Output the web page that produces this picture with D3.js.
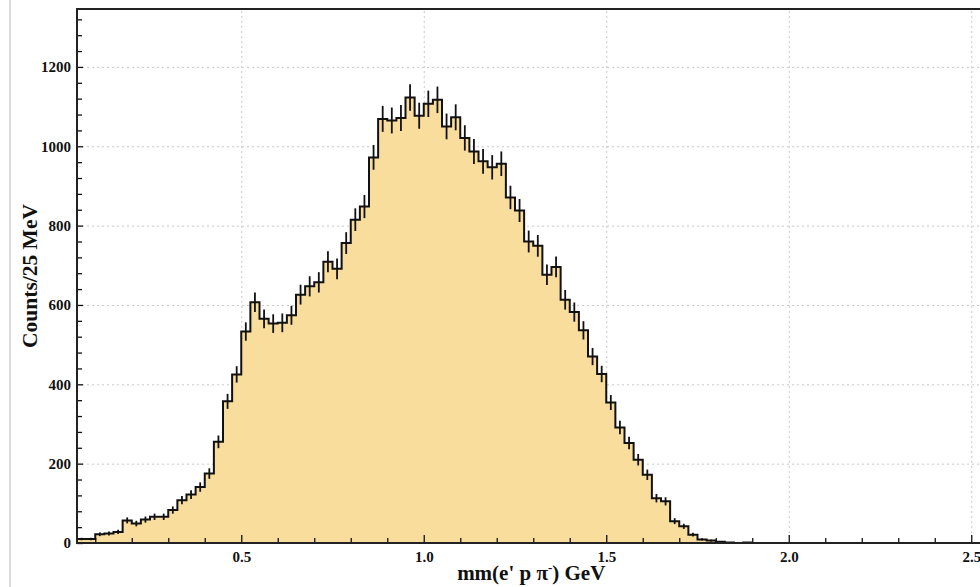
<!DOCTYPE html>
<html>
<head>
<meta charset="utf-8">
<script src="https://cdn.jsdelivr.net/npm/d3@7"></script>
<style>
  html, body { margin: 0; padding: 0; background: #fff; }
  text { font-family: "Liberation Serif", "Times New Roman", serif; font-weight: bold; fill: #111; }
  .grid line { stroke: #c8c8c8; stroke-width: 1; stroke-dasharray: 2,3; }
  .grid path { display: none; }
  .ticklab text { font-size: 15px; }
</style>
</head>
<body>
<div id="container"></div>
<script>
// histogram of mm(e' p pi-), 25 MeV bins starting at 0.05 GeV
const binStart = 0.05;
const binWidth = 0.025;
const counts = [
  10, 10, 22, 24, 28, 57, 49, 59, 66, 66,
  83, 108, 122, 141, 175, 255, 357, 425, 533, 607,
  565, 553, 555, 574, 626, 647, 657, 709, 691, 756,
  815, 848, 972, 1069, 1065, 1071, 1123, 1077, 1107, 1117,
  1050, 1073, 1021, 987, 962, 947, 956, 871, 838, 760,
  749, 676, 696, 613, 582, 536, 470, 426, 354, 291,
  252, 210, 172, 113, 105, 55, 42, 21, 9, 6,
  3, 1, 0, 1
];
const xTicks = [0.5, 1.0, 1.5, 2.0, 2.5];
const yTicks = [0, 200, 400, 600, 800, 1000, 1200];

const W = 980, H = 587;
const margin = {left: 77, top: 9, bottom: 44};
const width = 912.5;
const height = H - margin.top - margin.bottom;

var svg = d3.select("#container").append("svg")
  .attr("width", W)
  .attr("height", H);

// stray page edge on the left
svg.append('line')
  .attr('x1', 10).attr('x2', 10)
  .attr('y1', 0).attr('y2', H)
  .attr('stroke', '#d0d0d0')
  .attr('stroke-width', 1.5);

const chart = svg.append('g')
  .attr('transform', `translate(${margin.left}, ${margin.top})`);

const xScale = d3.scaleLinear()
  .domain([0.05, 2.55])
  .range([0, width]);

const yScale = d3.scaleLinear()
  .domain([0, 1346])
  .range([height, 0]);

// grid
chart.append('g')
  .attr('class', 'grid')
  .attr('transform', `translate(0, ${height})`)
  .call(d3.axisBottom(xScale).tickValues(xTicks).tickSize(-height).tickFormat(''));

chart.append('g')
  .attr('class', 'grid')
  .call(d3.axisLeft(yScale).tickValues(yTicks.slice(1)).tickSize(-width).tickFormat(''));

// histogram data: one point per bin edge
const bins = counts.map((c, i) => ({x: binStart + i * binWidth, y: c}));
const steps = bins.concat([{x: binStart + counts.length * binWidth, y: counts[counts.length - 1]}]);

const area = d3.area()
  .curve(d3.curveStepAfter)
  .x(d => xScale(d.x))
  .y0(yScale(0))
  .y1(d => yScale(d.y));

const line = d3.line()
  .curve(d3.curveStepAfter)
  .x(d => xScale(d.x))
  .y(d => yScale(d.y));

chart.append('path')
  .datum(steps)
  .attr('d', area)
  .attr('fill', '#f9dd9d');

chart.append('path')
  .datum(steps)
  .attr('d', line)
  .attr('fill', 'none')
  .attr('stroke', '#111')
  .attr('stroke-width', 2);

// poisson error bars at bin centres
chart.selectAll('.err')
  .data(bins.filter(d => d.y > 0))
  .enter()
  .append('line')
  .attr('class', 'err')
  .attr('x1', d => xScale(d.x + binWidth / 2))
  .attr('x2', d => xScale(d.x + binWidth / 2))
  .attr('y1', d => yScale(d.y - Math.sqrt(d.y)))
  .attr('y2', d => yScale(d.y + Math.sqrt(d.y)))
  .attr('stroke', '#111')
  .attr('stroke-width', 1.8);

// axes, ticks inside
const xMinor = d3.range(0.1, 2.55, 0.1).filter(v => !xTicks.some(t => Math.abs(t - v) < 1e-6));
chart.append('g')
  .attr('transform', `translate(0, ${height})`)
  .call(d3.axisBottom(xScale).tickValues(xMinor).tickSize(-5).tickFormat(''))
  .call(g => g.select('.domain').remove());

chart.append('g')
  .attr('class', 'ticklab')
  .attr('transform', `translate(0, ${height})`)
  .call(d3.axisBottom(xScale).tickValues(xTicks).tickSize(-8).tickPadding(8).tickFormat(d3.format('.1f')))
  .call(g => g.select('.domain').remove());

const yMinor = d3.range(40, 1346, 40).filter(v => v % 200 !== 0);
chart.append('g')
  .call(d3.axisLeft(yScale).tickValues(yMinor).tickSize(-5).tickFormat(''))
  .call(g => g.select('.domain').remove());

chart.append('g')
  .attr('class', 'ticklab')
  .call(d3.axisLeft(yScale).tickValues(yTicks).tickSize(-6).tickPadding(6).tickFormat(d3.format('d')))
  .call(g => g.select('.domain').remove());

chart.selectAll('.tick line').attr('stroke', '#111').attr('stroke-width', 1.3);

// frame
chart.append('rect')
  .attr('x', 0).attr('y', 0)
  .attr('width', width).attr('height', height)
  .attr('fill', 'none')
  .attr('stroke', '#222')
  .attr('stroke-width', 2);

const xTitle = svg.append('text')
  .attr('x', margin.left + width / 2 - 2)
  .attr('y', 580)
  .attr('text-anchor', 'middle')
  .attr('font-size', 21);
xTitle.append('tspan').text("mm(e' p \u03c0");
xTitle.append('tspan').attr('dy', -8).attr('font-size', 13).text('-');
xTitle.append('tspan').attr('dy', 8).text(') GeV');

svg.append('text')
  .attr('x', -(margin.top + height / 2))
  .attr('y', 37)
  .attr('transform', 'rotate(-90)')
  .attr('text-anchor', 'middle')
  .attr('font-size', 21.5)
  .text('Counts/25 MeV');
</script>
</body>
</html>
